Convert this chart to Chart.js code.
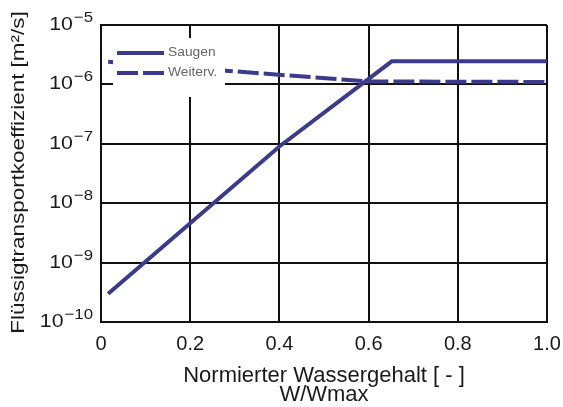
<!DOCTYPE html>
<html><head><meta charset="utf-8">
<script src="https://cdn.jsdelivr.net/npm/chart.js@4"></script>
<style>html,body{margin:0;padding:0;background:#fff}#wrap{width:563px;height:407px}</style>
</head><body><div id="wrap"><canvas id="c" width="563" height="407"></canvas></div>
<script>
const xTickLabels = ['0', '0.2', '0.4', '0.6', '0.8', '1.0'];
const yTickExponents = [-10, -9, -8, -7, -6, -5];
const seriesNames = ['Saugen', 'Weiterv.'];
const saugenX = [0.016, 0.4, 0.652, 1.0];
const saugenY = [3.0e-10, 9.0e-8, 2.45e-6, 2.45e-6];
const weiterX = [0.016, 0.6, 1.0];
const weiterY = [2.4e-6, 1.12e-6, 1.1e-6];
const xTitle = ['Normierter Wassergehalt [ - ]', 'W/Wmax'];
const yTitle = 'Flüssigtransportkoeffizient [m²/s]';

const FONT = '"Liberation Sans", Arial, sans-serif';
const LINE = '#3b3a8c';
const INK = '#1a1a1a';

const toPts = (xs, ys) => xs.map((x, i) => ({x: x, y: ys[i]}));

const customDraw = {
  id: 'customDraw',
  afterDatasetsDraw(chart) {
    const ctx = chart.ctx, a = chart.chartArea;
    ctx.save();
    ctx.fillStyle = '#fff';
    ctx.fillRect(a.left + 12, a.top + 13, 112, 59);
    chart.data.datasets.forEach((ds, i) => {
      const y = a.top + 28 + i * 20;
      ctx.strokeStyle = ds.borderColor;
      ctx.lineWidth = ds.borderWidth;
      ctx.setLineDash(ds.borderDash || []);
      ctx.beginPath(); ctx.moveTo(a.left + 16, y); ctx.lineTo(a.left + 63, y); ctx.stroke();
      ctx.setLineDash([]);
      ctx.fillStyle = '#666';
      ctx.font = '12px ' + FONT;
      ctx.textBaseline = 'middle';
      ctx.textAlign = 'left';
      ctx.save(); ctx.translate(a.left + 67, y); ctx.scale(1.15, 1); ctx.fillText(ds.label, 0, 0); ctx.restore();
    });
    ctx.restore();
  },
  afterDraw(chart) {
    const ctx = chart.ctx, ys = chart.scales.y;
    ctx.save();
    ctx.fillStyle = INK;
    ctx.textBaseline = 'alphabetic';
    ctx.textAlign = 'left';
    yTickExponents.forEach(e => {
      const py = ys.getPixelForValue(Math.pow(10, e));
      const expStr = '\u2212' + Math.abs(e);
      ctx.font = '15px ' + FONT;
      const ew = ctx.measureText(expStr).width * 1.12;
      ctx.font = '19px ' + FONT;
      const bw = ctx.measureText('10').width * 1.12;
      const right = 93;
      ctx.save(); ctx.translate(right - ew - 1 - bw, py + 5); ctx.scale(1.12, 1);
      ctx.font = '19px ' + FONT; ctx.fillText('10', 0, 0); ctx.restore();
      ctx.save(); ctx.translate(right - ew, py - 3); ctx.scale(1.12, 1);
      ctx.font = '15px ' + FONT; ctx.fillText(expStr, 0, 0); ctx.restore();
    });
    // y title
    ctx.save();
    ctx.translate(19, 172.5);
    ctx.rotate(-Math.PI / 2);
    ctx.scale(1.18, 1);
    ctx.font = '19px ' + FONT;
    ctx.textAlign = 'center';
    ctx.textBaseline = 'middle';
    ctx.fillText(yTitle, 0, 0);
    ctx.restore();
    ctx.restore();
  }
};

new Chart(document.getElementById('c'), {
  type: 'line',
  data: {
    datasets: [
      {label: seriesNames[0], data: toPts(saugenX, saugenY), borderColor: LINE, borderWidth: 4, pointRadius: 0, tension: 0, fill: false},
      {label: seriesNames[1], data: toPts(weiterX, weiterY), borderColor: LINE, borderWidth: 4, borderDash: [21, 5], pointRadius: 0, tension: 0, fill: false}
    ]
  },
  options: {
    responsive: false,
    animation: false,
    devicePixelRatio: 1,
    layout: {padding: {left: 0, top: 25, right: 16, bottom: 0}},
    plugins: {legend: {display: false}, tooltip: {enabled: false}, title: {display: false}},
    scales: {
      x: {
        type: 'linear', min: 0, max: 1,
        afterBuildTicks: s => { s.ticks = xTickLabels.map(t => ({value: parseFloat(t)})); },
        afterFit: s => { s.height = 85; s.paddingLeft = 0; s.paddingRight = 0; },
        ticks: {callback: (v, i) => xTickLabels[i], font: {size: 20, family: FONT}, color: INK, padding: 10, maxRotation: 0, autoSkip: false},
        grid: {color: '#111', lineWidth: 2, drawTicks: false},
        border: {color: '#111', width: 2},
        title: {display: true, text: xTitle, color: INK, font: {size: 22, family: FONT, lineHeight: 0.86}, padding: {top: 0, bottom: 3}}
      },
      y: {
        type: 'logarithmic', min: 1e-10, max: 1e-5,
        afterBuildTicks: s => { s.ticks = yTickExponents.map(e => ({value: Math.pow(10, e)})); },
        afterFit: s => { s.width = 101; s.paddingTop = 0; s.paddingBottom = 0; },
        ticks: {display: false},
        grid: {color: '#111', lineWidth: 2, drawTicks: false},
        border: {color: '#111', width: 2},
        title: {display: false}
      }
    }
  },
  plugins: [customDraw]
});
</script></body></html>
